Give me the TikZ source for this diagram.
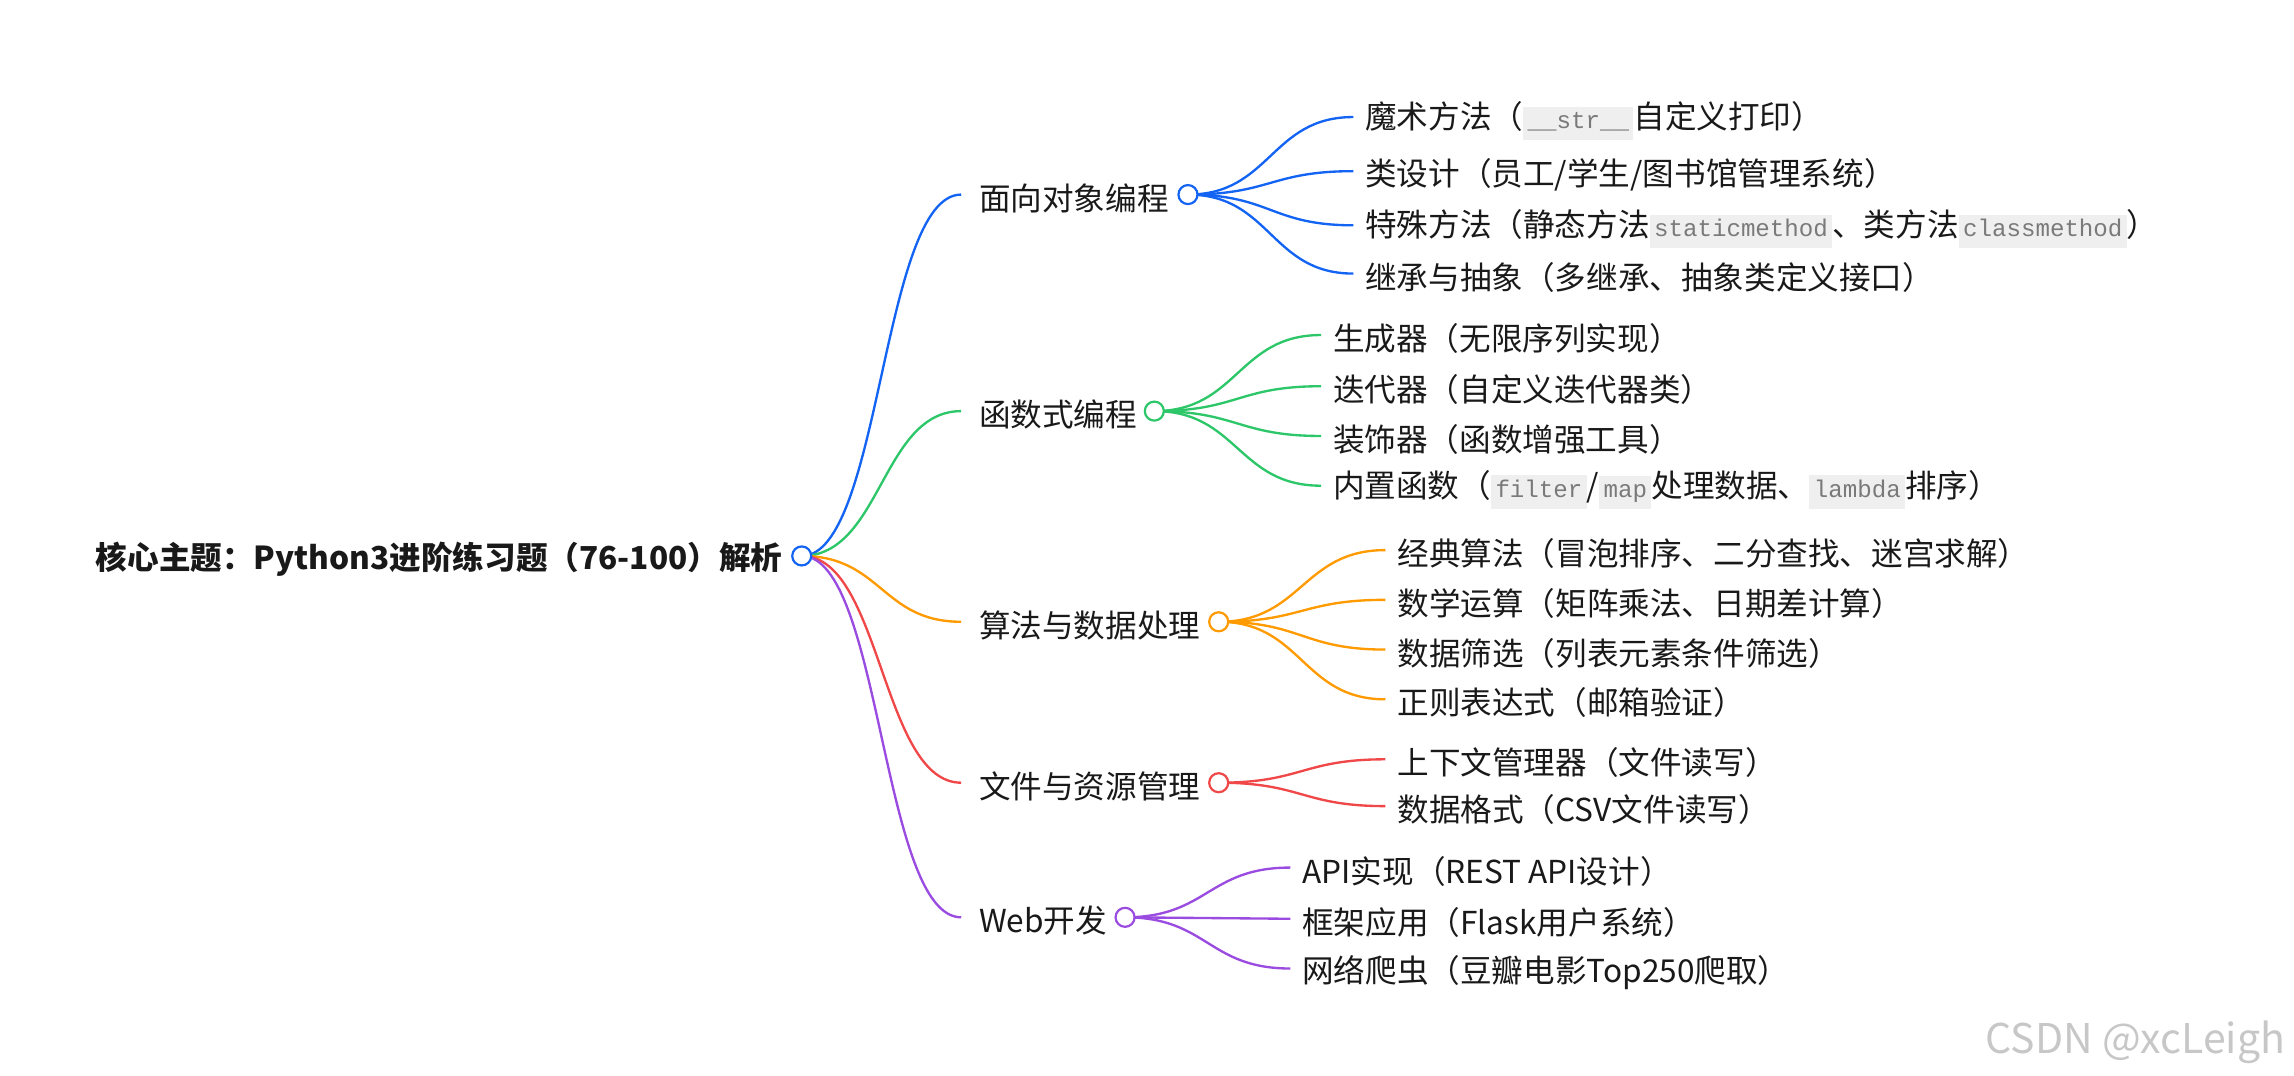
\documentclass[tikz,border=0pt]{standalone}
\usepackage{fontspec}
\setmainfont{Noto Sans CJK SC}
\setmonofont{Liberation Mono}
\usetikzlibrary{calc}
\definecolor{cB}{HTML}{1464F4}
\definecolor{cG}{HTML}{2DC76A}
\definecolor{cO}{HTML}{FF9A00}
\definecolor{cR}{HTML}{F04848}
\definecolor{cP}{HTML}{9A4BE0}
\definecolor{codebg}{HTML}{EFEFEF}
\definecolor{codefg}{HTML}{7A7A7A}
\newcommand\cd[1]{{\setlength\fboxsep{3pt}\colorbox{codebg}{\ttfamily\fontsize{16.5}{16.5}\selectfont\color{codefg}\strut #1}}}
\tikzset{
 lbl/.style={anchor=west,inner sep=0pt,yshift=-2.5pt,font=\fontsize{21.6}{23}\selectfont,text=black!90},
 dot/.style={circle,draw,fill=white,line width=1.5pt,minimum size=13pt,inner sep=0pt},
 ed/.style={line width=1.6pt},
}
\newcommand\curve[3]{\draw[ed,#1] let \p1=(#2),\p2=(#3) in (\p1) .. controls ({(\x1+\x2)/2},\y1) and ({(\x1+\x2)/2},\y2) .. (\p2);}
\begin{document}
\begin{tikzpicture}[x=1pt,y=-1pt]
\useasboundingbox (0,0) rectangle (1568,735);
\node[lbl,anchor=east,font=\fontsize{21.6}{23}\selectfont\bfseries] (root) at (535,380) {核心主题：Python3进阶练习题（76-100）解析};
\node[lbl] (b1) at (669,133) {面向对象编程};
\node[lbl] (b2) at (669,281) {函数式编程};
\node[lbl] (b3) at (669,425) {算法与数据处理};
\node[lbl] (b4) at (669,535) {文件与资源管理};
\node[lbl] (b5) at (669,627) {Web开发};
\coordinate (e1) at (657,133);\coordinate (e2) at (657,281);\coordinate (e3) at (657,425);\coordinate (e4) at (657,535);\coordinate (e5) at (657,627);
\coordinate (r) at (548,380);
\curve{cB}{r}{e1}\curve{cG}{r}{e2}\curve{cO}{r}{e3}\curve{cR}{r}{e4}\curve{cP}{r}{e5}
\node[dot,draw=cB] (rc) at (r) {};
\node[lbl] (c11) at (933,80) {魔术方法（\cd{\_\_str\_\_}自定义打印）};
\node[lbl] (c12) at (933,117) {类设计（员工/学生/图书馆管理系统）};
\node[lbl] (c13) at (933,154) {特殊方法（静态方法\cd{staticmethod}、类方法\cd{classmethod}）};
\node[lbl] (c14) at (933,187) {继承与抽象（多继承、抽象类定义接口）};
\node[lbl] (c21) at (911,229) {生成器（无限序列实现）};
\node[lbl] (c22) at (911,264) {迭代器（自定义迭代器类）};
\node[lbl] (c23) at (911,298) {装饰器（函数增强工具）};
\node[lbl] (c24) at (911,332) {内置函数（\cd{filter}/\cd{map}处理数据、\cd{lambda}排序）};
\node[lbl] (c31) at (955,376) {经典算法（冒泡排序、二分查找、迷宫求解）};
\node[lbl] (c32) at (955,410) {数学运算（矩阵乘法、日期差计算）};
\node[lbl] (c33) at (955,444) {数据筛选（列表元素条件筛选）};
\node[lbl] (c34) at (955,478) {正则表达式（邮箱验证）};
\node[lbl] (c41) at (955,519) {上下文管理器（文件读写）};
\node[lbl] (c42) at (955,551) {数据格式（CSV文件读写）};
\node[lbl] (c51) at (890,593) {API实现（REST API设计）};
\node[lbl] (c52) at (890,628) {框架应用（Flask用户系统）};
\node[lbl] (c53) at (890,662) {网络爬虫（豆瓣电影Top250爬取）};
\coordinate (p1) at (812,133);\coordinate (p2) at (789,281);\coordinate (p3) at (833,425);\coordinate (p4) at (833,535);\coordinate (p5) at (769,627);
\foreach \c in {c11,c12,c13,c14}{\coordinate (t) at ([xshift=-8pt,yshift=2.5pt]\c.west); \curve{cB}{p1}{t}}
\foreach \c in {c21,c22,c23,c24}{\coordinate (t) at ([xshift=-8pt,yshift=2.5pt]\c.west); \curve{cG}{p2}{t}}
\foreach \c in {c31,c32,c33,c34}{\coordinate (t) at ([xshift=-8pt,yshift=2.5pt]\c.west); \curve{cO}{p3}{t}}
\foreach \c in {c41,c42}{\coordinate (t) at ([xshift=-8pt,yshift=2.5pt]\c.west); \curve{cR}{p4}{t}}
\foreach \c in {c51,c52,c53}{\coordinate (t) at ([xshift=-8pt,yshift=2.5pt]\c.west); \curve{cP}{p5}{t}}
\node[dot,draw=cB] (d1) at (p1) {};
\node[dot,draw=cG] (d2) at (p2) {};
\node[dot,draw=cO] (d3) at (p3) {};
\node[dot,draw=cR] (d4) at (p4) {};
\node[dot,draw=cP] (d5) at (p5) {};
\node[lbl,anchor=east,text=black!22,font=\fontsize{28}{30}\selectfont] (wm) at (1562,710) {CSDN @xcLeigh};
\end{tikzpicture}
\end{document}
